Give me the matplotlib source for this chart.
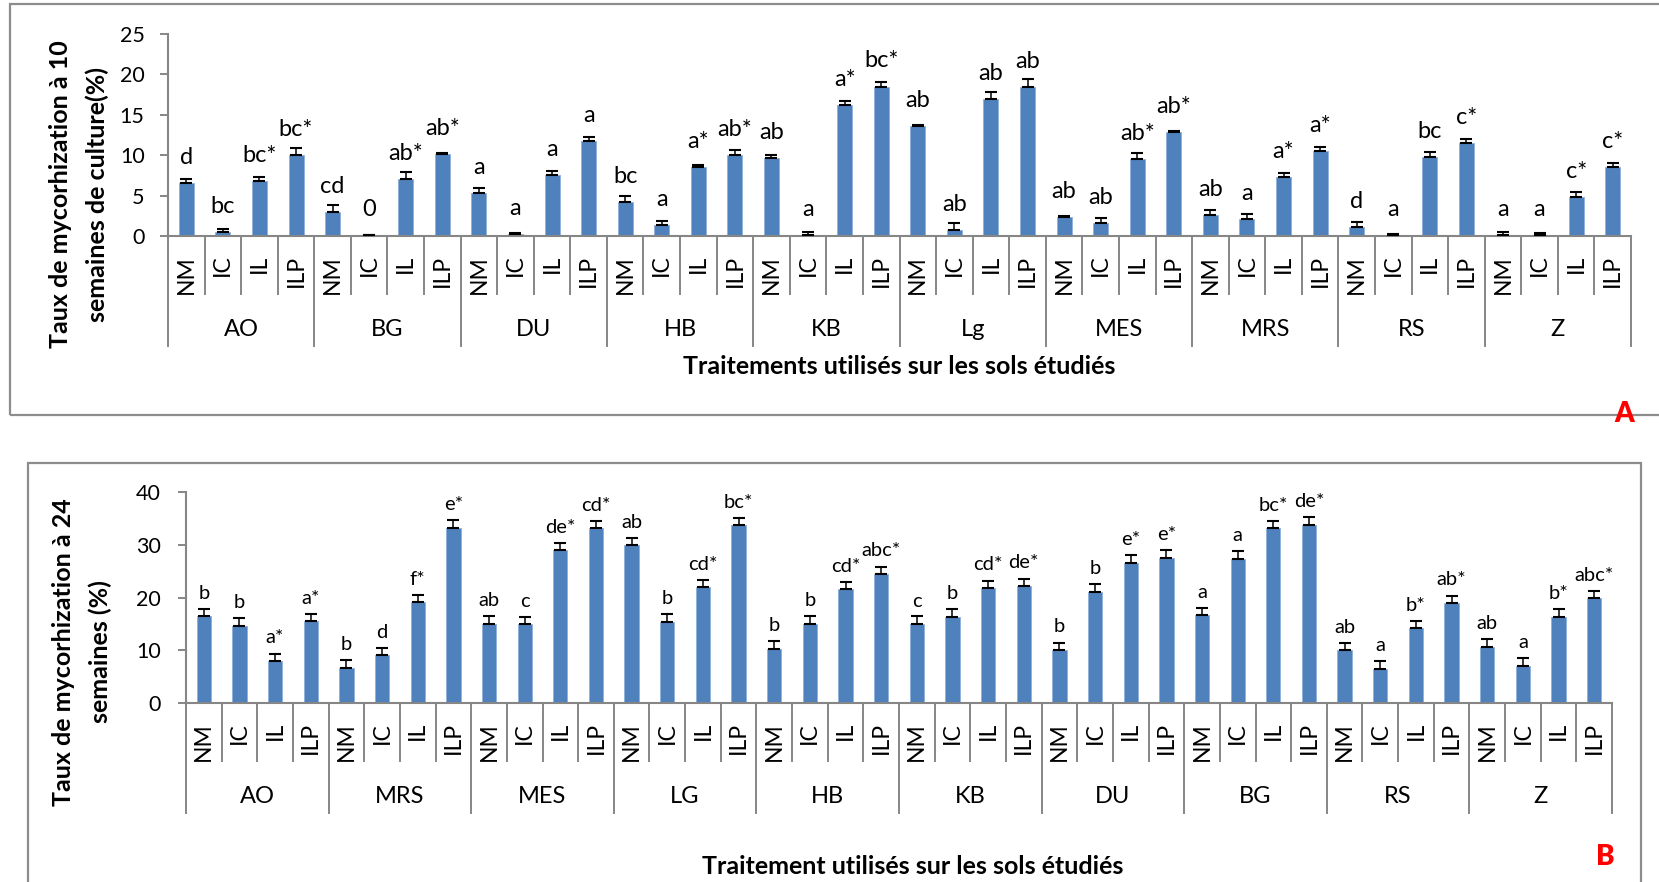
import matplotlib
matplotlib.use("Agg")
import matplotlib.pyplot as plt
from matplotlib.patches import Rectangle
from matplotlib.transforms import offset_copy
import numpy as np

plt.rcParams['font.family'] = ['Lato', 'DejaVu Sans']

# ---------------- data ----------------
treatments = ["NM", "IC", "IL", "ILP"]

# 10 weeks of culture
soils_10w = ["AO", "BG", "DU", "HB", "KB", "Lg", "MES", "MRS", "RS", "Z"]
rate_10w = [
    [6.6, 0.45, 6.8, 10.0],
    [3.0, 0.1, 7.0, 10.2],
    [5.3, 0.2, 7.55, 11.7],
    [4.25, 1.3, 8.5, 10.0],
    [9.7, 0.15, 16.2, 18.5],
    [13.6, 0.7, 17.0, 18.45],
    [2.35, 1.55, 9.5, 12.85],
    [2.6, 2.05, 7.35, 10.5],
    [1.15, 0.15, 9.8, 11.55],
    [0.15, 0.15, 4.85, 8.5],
]
err_10w = [
    [0.45, 0.4, 0.5, 0.85],
    [0.8, 0.0, 0.95, 0.1],
    [0.7, 0.2, 0.5, 0.5],
    [0.7, 0.55, 0.3, 0.7],
    [0.3, 0.4, 0.5, 0.5],
    [0.15, 0.95, 0.8, 0.95],
    [0.1, 0.65, 0.75, 0.12],
    [0.6, 0.65, 0.5, 0.55],
    [0.6, 0.15, 0.55, 0.5],
    [0.3, 0.2, 0.6, 0.5],
]
letters_10w = [
    ["d", "bc", "bc*", "bc*"],
    ["cd", "0", "ab*", "ab*"],
    ["a", "a", "a", "a"],
    ["bc", "a", "a*", "ab*"],
    ["ab", "a", "a*", "bc*"],
    ["ab", "ab", "ab", "ab"],
    ["ab", "ab", "ab*", "ab*"],
    ["ab", "a", "a*", "a*"],
    ["d", "a", "bc", "c*"],
    ["a", "a", "c*", "c*"],
]

# 24 weeks
soils_24w = ["AO", "MRS", "MES", "LG", "HB", "KB", "DU", "BG", "RS", "Z"]
rate_24w = [
    [16.5, 14.7, 8.1, 15.5],
    [6.7, 9.1, 19.1, 33.25],
    [15.1, 14.95, 29.0, 33.1],
    [29.9, 15.45, 21.95, 33.75],
    [10.35, 15.1, 21.6, 24.5],
    [15.0, 16.4, 21.9, 22.3],
    [10.15, 21.1, 26.6, 27.6],
    [16.65, 27.4, 33.1, 33.8],
    [10.0, 6.5, 14.25, 19.0],
    [10.7, 7.15, 16.4, 19.9],
]
err_24w = [
    [1.4, 1.4, 1.3, 1.4],
    [1.45, 1.45, 1.45, 1.4],
    [1.4, 1.35, 1.3, 1.4],
    [1.4, 1.4, 1.35, 1.4],
    [1.4, 1.4, 1.35, 1.35],
    [1.45, 1.4, 1.25, 1.3],
    [1.35, 1.4, 1.4, 1.4],
    [1.45, 1.4, 1.5, 1.4],
    [1.4, 1.45, 1.35, 1.4],
    [1.4, 1.35, 1.45, 1.35],
]
letters_24w = [
    ["b", "b", "a*", "a*"],
    ["b", "d", "f*", "e*"],
    ["ab", "c", "de*", "cd*"],
    ["ab", "b", "cd*", "bc*"],
    ["b", "b", "cd*", "abc*"],
    ["c", "b", "cd*", "de*"],
    ["b", "b", "e*", "e*"],
    ["a", "a", "bc*", "de*"],
    ["ab", "a", "b*", "ab*"],
    ["ab", "a", "b*", "abc*"],
]

# ---------------- style ----------------
W, H, DPI = 1659, 882, 100
BAR = "#4F81BD"
BAR_EDGE = "#8DB0DA"
AXIS = "#868686"
FRAME = "#8C8C8C"

fig = plt.figure(figsize=(W / DPI, H / DPI), dpi=DPI)


def px_axes(left, right, y0, ytop):
    return fig.add_axes([left / W, 1 - y0 / H, (right - left) / W, (y0 - ytop) / H])


def draw_panel(ax, soils, rates, errs, letters, ymax, ystep, bar_w,
               letter_size, letter_off, ytick_pad, group_dy):
    vals = np.array(rates, dtype=float).ravel()
    err = np.array(errs, dtype=float).ravel()
    labs = [s for row in letters for s in row]
    x = np.arange(len(vals))
    n_t = len(treatments)

    ax.bar(x, vals, width=bar_w, color=BAR, edgecolor=BAR_EDGE,
           linewidth=0.6, zorder=2)
    ax.errorbar(x, vals, yerr=[np.zeros_like(err), err], fmt="none",
                ecolor="black", elinewidth=1.1, capsize=4.6, capthick=1.5,
                zorder=3)
    for xi, v, lab in zip(x, vals, labs):
        ax.annotate(lab, (xi, v), xytext=(0, letter_off),
                    textcoords="offset points", ha="center", va="baseline",
                    fontsize=letter_size, color="black")

    ax.set_xlim(-0.5, len(vals) - 0.5)
    ax.set_ylim(0, ymax)
    ax.set_yticks(np.arange(0, ymax + 1, ystep))
    ax.tick_params(axis="y", length=5.8, width=1.4, color=AXIS,
                   labelsize=15.5, pad=ytick_pad)
    ax.set_xticks(x, labels=treatments * len(soils), rotation=90)
    ax.tick_params(axis="x", length=0, labelsize=16.5, pad=13.5)
    for side in ("top", "right"):
        ax.spines[side].set_visible(False)
    for side in ("left", "bottom"):
        ax.spines[side].set_color(AXIS)
        ax.spines[side].set_linewidth(1.5)

    # category / group separators below the axis
    h_px = ax.get_position().height * H
    for k in range(len(vals) + 1):
        depth = 110 if k % n_t == 0 else 58
        ax.plot([k - 0.5, k - 0.5], [0, -depth / h_px],
                transform=ax.get_xaxis_transform(), color=AXIS,
                lw=1.4, clip_on=False, zorder=1)

    tr = offset_copy(ax.get_xaxis_transform(), fig=fig, y=-group_dy,
                     units="dots")
    for g, soil in enumerate(soils):
        ax.text(g * n_t + (n_t - 1) / 2, 0, soil, transform=tr,
                ha="center", va="center", fontsize=17)


# ---------- panel A : 10 weeks ----------
axA = px_axes(168, 1631, 236, 34)
draw_panel(axA, soils_10w, rate_10w, err_10w, letters_10w, 25, 5, 0.41,
           17, 13.7, 11, 94)
fig.text(79 / W, 1 - 194 / H, "Taux de mycorhization à 10\nsemaines de culture(%)",
         rotation=90, ha="center", va="center", fontsize=18,
         fontweight="bold", linespacing=1.65)
fig.text(899 / W, 1 - 367 / H, "Traitements utilisés sur les sols étudiés",
         ha="center", va="center", fontsize=18, fontweight="bold")

# ---------- panel B : 24 weeks ----------
axB = px_axes(186, 1612, 703.3, 492)
draw_panel(axB, soils_24w, rate_24w, err_24w, letters_24w, 40, 10, 0.40,
           14.5, 12.6, 12.5, 93)
fig.text(82 / W, 1 - 652 / H, "Taux de mycorhization à 24\nsemaines (%)",
         rotation=90, ha="center", va="center", fontsize=18,
         fontweight="bold", linespacing=1.65)
fig.text(913 / W, 1 - 866 / H, "Traitement utilisés sur les sols étudiés",
         ha="center", va="center", fontsize=18, fontweight="bold")

# panel frames
fig.patches.append(Rectangle((10 / W, 1 - 415 / H), 1700 / W, 411 / H,
                             transform=fig.transFigure, fill=False,
                             ec=FRAME, lw=1.6, zorder=0))
fig.patches.append(Rectangle((28 / W, -0.1), (1641 - 28) / W, 0.1 + (1 - 463 / H),
                             transform=fig.transFigure, fill=False,
                             ec=FRAME, lw=1.6, zorder=0))

fig.text(1624 / W, 1 - 414 / H, "A", color="red", fontsize=20,
         fontweight="heavy", ha="center", va="center", zorder=5)
fig.text(1605 / W, 1 - 857 / H, "B", color="red", fontsize=20,
         fontweight="heavy", ha="center", va="center", zorder=5)

fig.savefig("out.png", dpi=DPI)
